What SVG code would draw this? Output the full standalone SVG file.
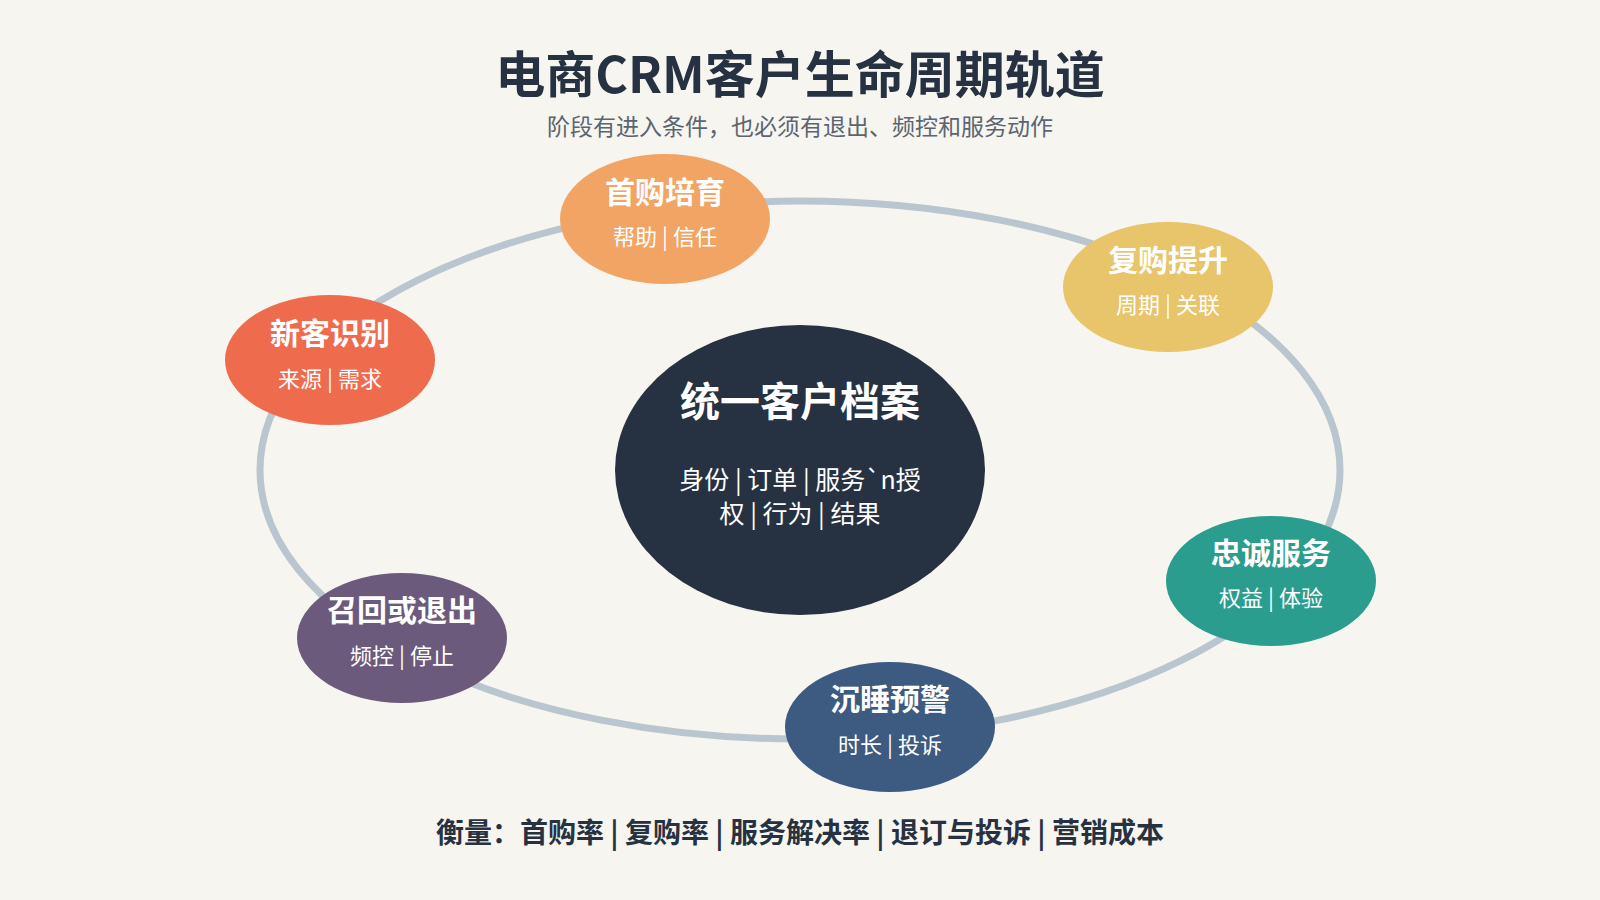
<svg xmlns="http://www.w3.org/2000/svg" width="1600" height="900" viewBox="0 0 1600 900">
<style>
text{font-family:"Noto Sans CJK SC","Noto Sans",sans-serif;text-anchor:middle}
.nt{font-size:30px;font-weight:bold;fill:#fff}
.ns{font-size:22px;fill:#fff}
</style>
<rect width="1600" height="900" fill="#f6f5f0"/>
<text x="800" y="93" font-size="50" font-weight="bold" fill="#263241">电商CRM客户生命周期轨道</text>
<text x="800" y="135" font-size="23" fill="#5b6470">阶段有进入条件，也必须有退出、频控和服务动作</text>
<g id="connectors"><ellipse cx="800" cy="470" rx="540" ry="269" fill="none" stroke="#bac6cf" stroke-width="7"/></g>
<g id="center"><ellipse cx="800" cy="470" rx="185" ry="145" fill="#263241"/>
<text x="800" y="416" font-size="40" font-weight="bold" fill="#fff">统一客户档案</text>
<text x="800" y="489" font-size="25" fill="#fff">身份 | 订单 | 服务`n授</text>
<text x="800" y="523" font-size="25" fill="#fff">权 | 行为 | 结果</text></g>
<g id="n1"><ellipse cx="665" cy="219" rx="105" ry="65" fill="#f2a464"/><text class="nt" x="665" y="203">首购培育</text><text class="ns" x="665" y="245">帮助 | 信任</text></g>
<g id="n2"><ellipse cx="1168" cy="287" rx="105" ry="65" fill="#e8c46a"/><text class="nt" x="1168" y="271">复购提升</text><text class="ns" x="1168" y="313">周期 | 关联</text></g>
<g id="n3"><ellipse cx="330" cy="360" rx="105" ry="65" fill="#ee6c4d"/><text class="nt" x="330" y="344">新客识别</text><text class="ns" x="330" y="387">来源 | 需求</text></g>
<g id="n4"><ellipse cx="1271" cy="581" rx="105" ry="65" fill="#2a9d8f"/><text class="nt" x="1271" y="564">忠诚服务</text><text class="ns" x="1271" y="606">权益 | 体验</text></g>
<g id="n5"><ellipse cx="890" cy="727" rx="105" ry="65" fill="#3d5a80"/><text class="nt" x="890" y="710">沉睡预警</text><text class="ns" x="890" y="753">时长 | 投诉</text></g>
<g id="n6"><ellipse cx="402" cy="638" rx="105" ry="65" fill="#6c5a7c"/><text class="nt" x="402" y="621">召回或退出</text><text class="ns" x="402" y="664">频控 | 停止</text></g>
<text x="800" y="843" font-size="28" font-weight="bold" fill="#263241">衡量：首购率 | 复购率 | 服务解决率 | 退订与投诉 | 营销成本</text>
</svg>
